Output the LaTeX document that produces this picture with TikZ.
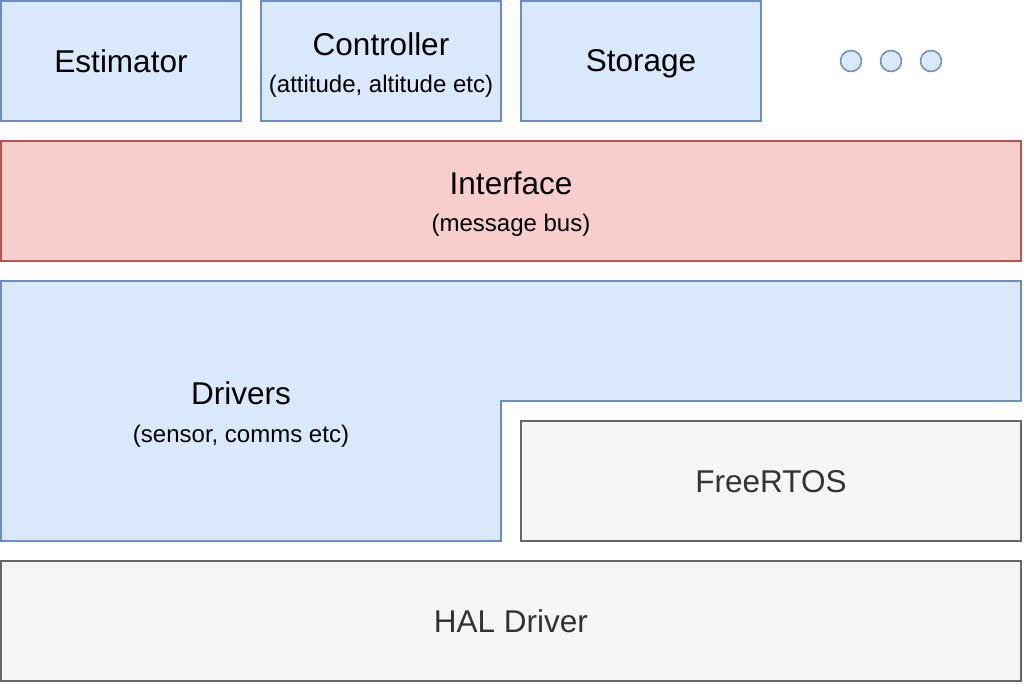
\documentclass[tikz,border=0pt]{standalone}
\usepackage{fontspec}
\setmainfont{Liberation Sans}
\definecolor{bluefill}{HTML}{DAE8FC}
\definecolor{bluedraw}{HTML}{6C8EBF}
\definecolor{redfill}{HTML}{F8CECC}
\definecolor{reddraw}{HTML}{B85450}
\definecolor{greyfill}{HTML}{F5F5F5}
\definecolor{greydraw}{HTML}{666666}
\definecolor{greytext}{HTML}{333333}
\tikzset{
  bluebox/.style={draw=bluedraw, fill=bluefill, line width=1.5pt, rectangle, inner sep=0pt, text=black},
  redbox/.style={draw=reddraw, fill=redfill, line width=1.5pt, rectangle, inner sep=0pt, text=black},
  greybox/.style={draw=greydraw, fill=greyfill, line width=1.5pt, rectangle, inner sep=0pt, text=greytext},
  dot/.style={draw=bluedraw, fill=bluefill, line width=1.5pt, circle, minimum size=21pt, inner sep=0pt},
  big/.style={font=\fontsize{31.5}{38}\selectfont, text depth=0pt},
  small/.style={font=\fontsize{24}{30}\selectfont, inner sep=0pt, text=black},
}
\begin{document}
\begin{tikzpicture}[x=1pt,y=-1pt]
\useasboundingbox (0,0) rectangle (1024,684);
% top row
\node[bluebox, minimum width=240pt, minimum height=120pt, big] (est) at (121,61) {Estimator};
\node[bluebox, minimum width=240pt, minimum height=120pt] (ctrl) at (381,61) {};
\node[big, inner sep=0pt] (ctrlt) at (381,44) {Controller};
\node[small] (ctrls) at (381,86) {(attitude, altitude etc)};
\node[bluebox, minimum width=240pt, minimum height=120pt, big] (stor) at (641,61) {Storage};
\node[dot] (d1) at (851,61) {};
\node[dot] (d2) at (891,61) {};
\node[dot] (d3) at (931,61) {};
% interface
\node[redbox, minimum width=1020pt, minimum height=120pt] (iface) at (511,201) {};
\node[big, inner sep=0pt] (ifacet) at (511,183) {Interface};
\node[small] (ifaces) at (511,225) {(message bus)};
% drivers polygon
\draw[draw=bluedraw, fill=bluefill, line width=1.5pt, line join=miter]
  (1,281) -- (1021,281) -- (1021,401) -- (501,401) -- (501,541) -- (1,541) -- cycle;
\node[big, inner sep=0pt] (drvt) at (241,393) {Drivers};
\node[small] (drvs) at (241,436) {(sensor, comms etc)};
% FreeRTOS
\node[greybox, minimum width=500pt, minimum height=120pt, big] (rtos) at (771,481) {FreeRTOS};
% HAL
\node[greybox, minimum width=1020pt, minimum height=120pt, big] (hal) at (511,621) {HAL Driver};
\end{tikzpicture}
\end{document}
